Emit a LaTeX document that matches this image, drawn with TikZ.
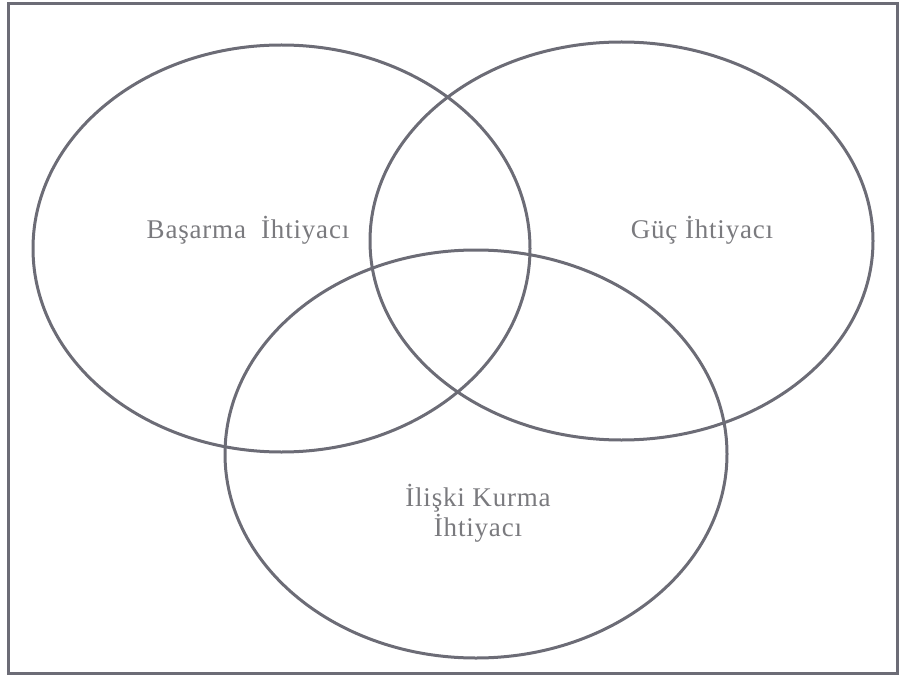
\documentclass[tikz,border=0pt]{standalone}
\usepackage{fontspec}
\setmainfont{Liberation Serif}
\usetikzlibrary{shapes.geometric}
\definecolor{linegray}{HTML}{6C6C76}
\definecolor{textgray}{HTML}{7A7A7E}
\tikzset{
  venn/.style={draw=linegray, line width=3pt, ellipse, inner sep=0pt},
  lbl/.style={text=textgray, font=\fontsize{27}{30}\selectfont\addfontfeature{LetterSpace=3}, align=center, inner sep=0pt},
  frame/.style={draw=linegray, line width=3pt}
}
\begin{document}
\begin{tikzpicture}[x=1pt,y=-1pt]
\useasboundingbox (0,0) rectangle (902,679);
\node[frame, minimum width=889pt, minimum height=669pt, inner sep=0pt] (box) at (452.5,338.5) {};
\node[venn, minimum width=497pt, minimum height=407pt] (A) at (281.5,248.5) {};
\node[venn, minimum width=503pt, minimum height=398pt] (P) at (621.5,241) {};
\node[venn, minimum width=502pt, minimum height=408pt] (R) at (476,454) {};
\node[lbl] (tA) at (248,230) {Başarma\ \ İhtiyacı};
\node[lbl] (tP) at (702,230) {Güç\ İhtiyacı};
\node[lbl] (tR) at (478,513) {İlişki Kurma\\İhtiyacı};
\end{tikzpicture}
\end{document}
